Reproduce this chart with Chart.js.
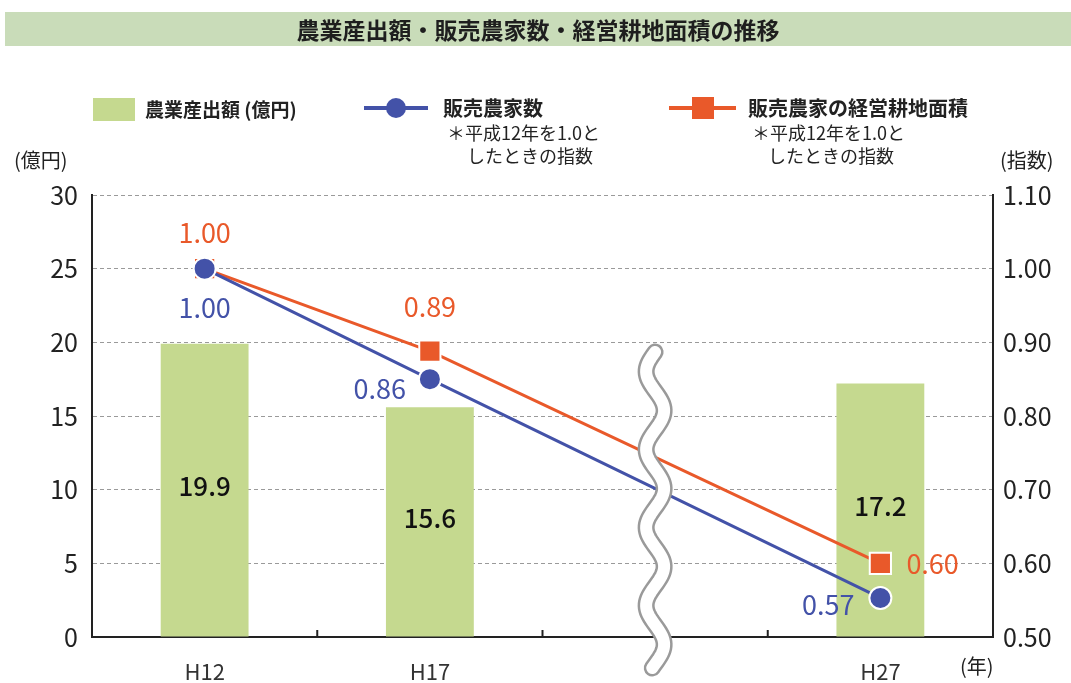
<!DOCTYPE html>
<html lang="ja">
<head>
<meta charset="utf-8">
<script src="https://cdn.jsdelivr.net/npm/chart.js@4"></script>
<style>
  html, body { margin: 0; padding: 0; background: #fff; }
  #wrap { position: relative; width: 1071px; height: 683px; }
</style>
</head>
<body>
<div id="wrap"><canvas id="grafico" width="1071" height="683"></canvas></div>
<script>
// Datos del gráfico
const categorias = ["H12", "H17", "", "H27"];
const produccion = [19.9, 15.6, null, 17.2];           // 農業産出額 (億円)
const hogares = [1.0, 0.85, null, 0.553];              // 販売農家数 (指数)
const superficie = [1.0, 0.888, null, 0.6];            // 経営耕地面積 (指数)
const etiquetasHogares = ["1.00", "0.86", null, "0.57"];
const etiquetasSuperficie = ["1.00", "0.89", null, "0.60"];
const ticksIzq = [0, 5, 10, 15, 20, 25, 30];
const ticksDer = [0.5, 0.6, 0.7, 0.8, 0.9, 1.0, 1.1];

const fuente = "'Noto Sans CJK JP', 'Noto Sans', sans-serif";
const verde = "#c5d98f";
const azul = "#4352a8";
const naranja = "#e9592a";

// Decoraciones: título, leyenda, etiquetas, símbolo de corte
const decoraciones = {
  id: "decoraciones",
  beforeDraw(chart) {
    const ctx = chart.ctx;
    ctx.save();
    ctx.fillStyle = "#c9dcb9";
    ctx.fillRect(5, 12, 1066, 34);
    ctx.fillStyle = "#1e1e1e";
    ctx.font = "bold 23px " + fuente;
    ctx.textAlign = "center";
    ctx.textBaseline = "middle";
    ctx.fillText("農業産出額・販売農家数・経営耕地面積の推移", 538, 30);
    ctx.restore();
  },
  afterDatasetsDraw(chart) {
    const ctx = chart.ctx;
    ctx.save();
    // valores dentro de las barras
    const barras = chart.getDatasetMeta(0);
    ctx.font = "500 26px " + fuente;
    ctx.fillStyle = "#111";
    ctx.textAlign = "center";
    ctx.textBaseline = "middle";
    barras.data.forEach((el, i) => {
      if (produccion[i] == null) return;
      ctx.fillText(produccion[i].toFixed(1), el.x, (el.y + el.base) / 2 - 4);
    });
    // etiquetas de las líneas
    const pintar = (idx, textos, pos, color) => {
      const meta = chart.getDatasetMeta(idx);
      ctx.fillStyle = color;
      ctx.font = "27px " + fuente;
      meta.data.forEach((p, i) => {
        const t = textos[i];
        if (!t) return;
        const [dx, dy, al] = pos[i];
        ctx.textAlign = al;
        ctx.fillText(t, p.x + dx, p.y + dy);
      });
    };
    pintar(1, etiquetasSuperficie, [[0, -36, "center"], [0, -44, "center"], null, [26, 0, "left"]], naranja);
    pintar(2, etiquetasHogares, [[0, 39, "center"], [-24, 10, "right"], null, [-26, 7, "right"]], azul);
    ctx.restore();
  },
  afterDraw(chart) {
    const ctx = chart.ctx;
    const x = chart.scales.x;
    const a = chart.chartArea;
    ctx.save();
    // marcas entre categorías
    ctx.strokeStyle = "#222";
    ctx.lineWidth = 2;
    for (let i = 1; i < categorias.length; i++) {
      const px = (x.getPixelForValue(i - 1) + x.getPixelForValue(i)) / 2;
      ctx.beginPath();
      ctx.moveTo(px, a.bottom);
      ctx.lineTo(px, a.bottom - 7);
      ctx.stroke();
    }
    // símbolo de corte
    const cx = x.getPixelForValue(2);
    const onda = () => {
      ctx.beginPath();
      for (let y = 352; y <= 668; y += 2) {
        const px = cx + 9 * Math.sin(((y - 352) / 78) * Math.PI * 2 + Math.PI);
        if (y === 352) ctx.moveTo(px, y); else ctx.lineTo(px, y);
      }
      ctx.stroke();
    };
    ctx.lineCap = "round";
    ctx.strokeStyle = "#9a9a9a";
    ctx.lineWidth = 17;
    onda();
    ctx.strokeStyle = "#fff";
    ctx.lineWidth = 12;
    onda();

    // leyenda
    ctx.textBaseline = "middle";
    ctx.textAlign = "left";
    ctx.fillStyle = verde;
    ctx.fillRect(93, 98, 42, 23);
    ctx.fillStyle = "#222";
    ctx.font = "bold 19px " + fuente;
    ctx.fillText("農業産出額 (億円)", 145, 110);

    ctx.lineCap = "butt";
    ctx.strokeStyle = azul;
    ctx.lineWidth = 4;
    ctx.beginPath(); ctx.moveTo(364, 108); ctx.lineTo(428, 108); ctx.stroke();
    ctx.fillStyle = azul;
    ctx.beginPath(); ctx.arc(396, 108, 10, 0, Math.PI * 2); ctx.fill();
    ctx.fillStyle = "#222";
    ctx.font = "bold 20px " + fuente;
    ctx.fillText("販売農家数", 443, 108);
    ctx.font = "18px " + fuente;
    ctx.fillText("＊平成12年を1.0と", 447, 133);
    ctx.fillText("したときの指数", 467, 156);

    ctx.strokeStyle = naranja;
    ctx.beginPath(); ctx.moveTo(669, 108); ctx.lineTo(736, 108); ctx.stroke();
    ctx.fillStyle = naranja;
    ctx.fillRect(692, 97, 22, 22);
    ctx.fillStyle = "#222";
    ctx.font = "bold 20px " + fuente;
    ctx.fillText("販売農家の経営耕地面積", 748, 108);
    ctx.font = "18px " + fuente;
    ctx.fillText("＊平成12年を1.0と", 752, 133);
    ctx.fillText("したときの指数", 768, 156);

    // títulos de ejes
    ctx.font = "20px " + fuente;
    ctx.fillText("(億円)", 14, 160);
    ctx.fillText("(指数)", 1000, 160);
    ctx.fillText("(年)", 960, 666);
    ctx.restore();
  },
};

new Chart(document.getElementById("grafico"), {
  type: "bar",
  data: {
    labels: categorias,
    datasets: [
      {
        label: "農業産出額（億円）",
        data: produccion,
        backgroundColor: verde,
        categoryPercentage: 1,
        barPercentage: 0.39,
        yAxisID: "y",
        order: 3,
      },
      {
        type: "line",
        label: "販売農家の経営耕地面積",
        data: superficie,
        borderColor: naranja,
        borderWidth: 3,
        backgroundColor: naranja,
        pointStyle: "rect",
        pointRadius: 15,
        pointBorderColor: "#fff",
        pointBorderWidth: 2,
        spanGaps: true,
        yAxisID: "y1",
        order: 2,
      },
      {
        type: "line",
        label: "販売農家数",
        data: hogares,
        borderColor: azul,
        borderWidth: 3,
        backgroundColor: azul,
        pointStyle: "circle",
        pointRadius: 11,
        pointBorderColor: "#fff",
        pointBorderWidth: 2,
        spanGaps: true,
        yAxisID: "y1",
        order: 1,
      },
    ],
  },
  options: {
    responsive: false,
    animation: false,
    layout: { padding: { top: 195, left: 0, right: 0, bottom: 0 } },
    plugins: {
      legend: { display: false },
      tooltip: { enabled: false },
    },
    scales: {
      x: {
        offset: true,
        grid: { display: false },
        border: { display: true, color: "#222", width: 2 },
        ticks: { color: "#333", font: { family: fuente, size: 22 }, padding: 13, maxRotation: 0 },
        afterFit(s) { s.height = 46; },
      },
      y: {
        position: "left",
        min: ticksIzq[0],
        max: ticksIzq[ticksIzq.length - 1],
        afterBuildTicks(s) { s.ticks = ticksIzq.map(v => ({ value: v })); },
        ticks: { color: "#222", font: { family: fuente, size: 25 }, padding: 14 },
        grid: { color: "#9a9a9a", lineWidth: 1, drawTicks: false },
        border: { color: "#222", width: 2, dash: [4, 3] },
        afterFit(s) { s.width = 92; },
      },
      y1: {
        position: "right",
        min: ticksDer[0],
        max: ticksDer[ticksDer.length - 1],
        afterBuildTicks(s) { s.ticks = ticksDer.map(v => ({ value: v })); },
        ticks: {
          color: "#222",
          font: { family: fuente, size: 25 },
          padding: 10,
          callback: v => Number(v).toFixed(2),
        },
        grid: { display: false, drawTicks: false },
        border: { color: "#222", width: 2 },
        afterFit(s) { s.width = 78; },
      },
    },
  },
  plugins: [decoraciones],
});
</script>
</body>
</html>
